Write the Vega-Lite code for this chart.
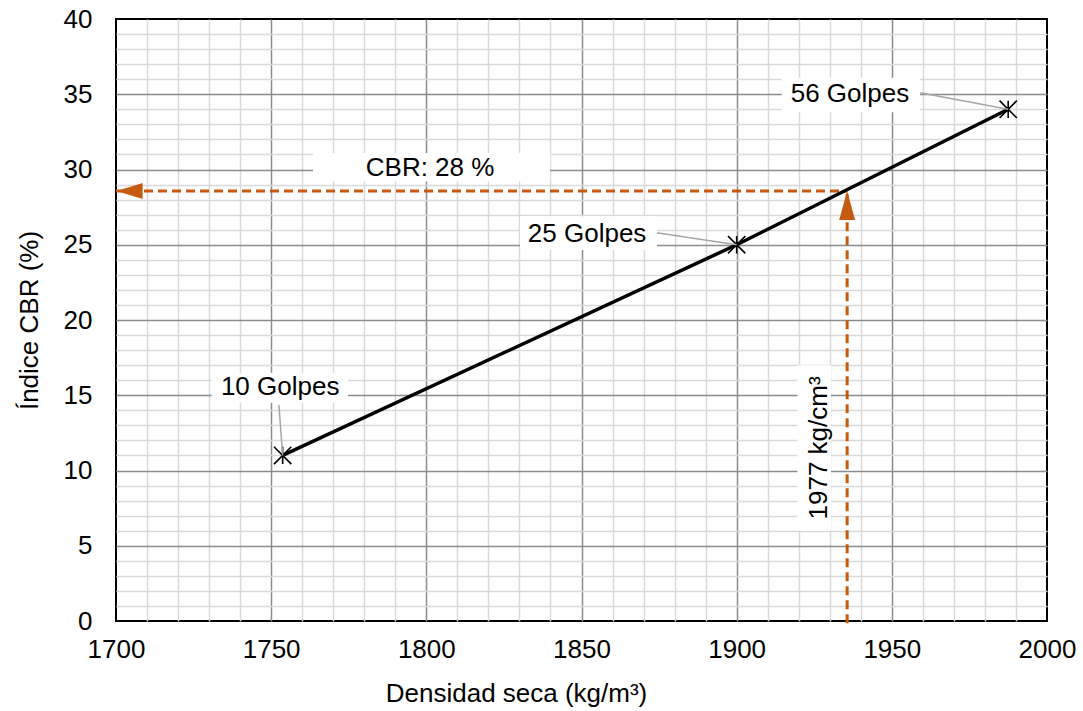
{
  "$schema": "https://vega.github.io/schema/vega-lite/v6.json",
  "width": 931,
  "height": 602,
  "autosize": {"type": "none"},
  "padding": {"left": 116, "top": 19, "right": 36, "bottom": 90},
  "config": {
    "font": "Liberation Sans",
    "view": {"stroke": "#000000", "strokeWidth": 2},
    "axis": {
      "ticks": false,
      "domain": false,
      "grid": true,
      "gridWidth": 1.5,
      "labelFontSize": 26,
      "labelColor": "#000000",
      "labelFlush": false,
      "labelOverlap": false,
      "labelBound": false,
      "titleFontSize": 26,
      "titleFontWeight": "normal",
      "titleColor": "#000000"
    }
  },
  "datasets": {
    "pts": [
      {"x": 1753.7, "y": 11},
      {"x": 1900, "y": 25},
      {"x": 1987.5, "y": 34}
    ],
    "guides": [
      {"x": 1700, "y": 28.57, "x2": 1935.6, "y2": 28.57},
      {"x": 1935.6, "y": -0.15, "x2": 1935.6, "y2": 28.57}
    ],
    "arrowLeft": [{"x": 1700.2, "y": 28.57}],
    "arrowUp": [{"x": 1935.6, "y": 28.57}],
    "leaders": [
      {"x": 1752.5, "y": 14.35, "x2": 1753.7, "y2": 11},
      {"x": 1874.2, "y": 25.8, "x2": 1900, "y2": 25},
      {"x": 1959.1, "y": 35.1, "x2": 1987.5, "y2": 34}
    ],
    "boxes": [
      {"x": 1730.8, "x2": 1774.8, "y": 14.5, "y2": 16.5},
      {"x": 1830.2, "x2": 1874.3, "y": 24.65, "y2": 26.9},
      {"x": 1914.5, "x2": 1959.1, "y": 33.8, "y2": 36.1},
      {"x": 1763.5, "x2": 1839.9, "y": 29.2, "y2": 31.1},
      {"x": 1919.6, "x2": 1930.4, "y": 6, "y2": 17}
    ],
    "labels": [
      {"x": 1752.9, "y": 15.55, "text": "10 Golpes"},
      {"x": 1851.8, "y": 25.7, "text": "25 Golpes"},
      {"x": 1936.5, "y": 35.0, "text": "56 Golpes"},
      {"x": 1801.2, "y": 30.08, "text": "CBR: 28 %"}
    ],
    "vlabel": [{"x": 1926.6, "y": 11.5, "text": "1977 kg/cm³"}]
  },
  "encoding": {
    "x": {
      "field": "x",
      "type": "quantitative",
      "scale": {"domain": [1700, 2000], "nice": false, "zero": false},
      "axis": {
        "title": "Densidad seca (kg/m³)",
        "format": "d",
        "values": [1700,1710,1720,1730,1740,1750,1760,1770,1780,1790,1800,1810,1820,1830,1840,1850,1860,1870,1880,1890,1900,1910,1920,1930,1940,1950,1960,1970,1980,1990,2000],
        "labelExpr": "datum.value % 50 === 0 ? datum.label : ''",
        "labelPadding": 15,
        "titlePadding": 18,
        "titleX": 400,
        "gridColor": {"condition": {"test": "datum.value % 50 === 0", "value": "#8c8c8c"}, "value": "#d9d9d9"},
        "gridOpacity": {"condition": {"test": "datum.value === 1700 || datum.value === 2000", "value": 0}, "value": 1}
      }
    },
    "y": {
      "field": "y",
      "type": "quantitative",
      "scale": {"domain": [0, 40], "nice": false, "zero": false},
      "axis": {
        "title": "Índice CBR (%)",
        "format": "d",
        "values": [0,1,2,3,4,5,6,7,8,9,10,11,12,13,14,15,16,17,18,19,20,21,22,23,24,25,26,27,28,29,30,31,32,33,34,35,36,37,38,39,40],
        "labelExpr": "datum.value % 5 === 0 ? datum.label : ''",
        "labelPadding": 24,
        "titlePadding": 21,
        "gridColor": {"condition": {"test": "datum.value % 5 === 0", "value": "#8c8c8c"}, "value": "#d9d9d9"},
        "gridOpacity": {"condition": {"test": "datum.value === 0 || datum.value === 40", "value": 0}, "value": 1}
      }
    }
  },
  "layer": [
    {
      "data": {"name": "guides"},
      "mark": {"type": "rule", "color": "#c55a11", "strokeWidth": 3, "strokeDash": [9, 5]},
      "encoding": {"x2": {"field": "x2"}, "y2": {"field": "y2"}}
    },
    {
      "data": {"name": "arrowLeft"},
      "mark": {"type": "point", "shape": "M0,0L2,-0.62L2,0.62Z", "size": 676, "filled": true, "color": "#c55a11", "opacity": 1, "strokeWidth": 0}
    },
    {
      "data": {"name": "arrowUp"},
      "mark": {"type": "point", "shape": "M0,0L-0.55,2L0.55,2Z", "size": 841, "filled": true, "color": "#c55a11", "opacity": 1, "strokeWidth": 0}
    },
    {
      "data": {"name": "pts"},
      "mark": {"type": "line", "color": "#000000", "strokeWidth": 3.5}
    },
    {
      "data": {"name": "pts"},
      "mark": {"type": "point", "shape": "M-1,-1L1,1M-1,1L1,-1M0,-1L0,1", "size": 300, "filled": false, "color": "#000000", "opacity": 1, "strokeWidth": 1.6}
    },
    {
      "data": {"name": "leaders"},
      "mark": {"type": "rule", "color": "#a6a6a6", "strokeWidth": 1.5},
      "encoding": {"x2": {"field": "x2"}, "y2": {"field": "y2"}}
    },
    {
      "data": {"name": "boxes"},
      "mark": {"type": "rect", "fill": "#ffffff", "strokeWidth": 0},
      "encoding": {"x2": {"field": "x2"}, "y2": {"field": "y2"}}
    },
    {
      "data": {"name": "labels"},
      "mark": {"type": "text", "fontSize": 26, "color": "#000000", "align": "center", "baseline": "middle"},
      "encoding": {"text": {"field": "text"}}
    },
    {
      "data": {"name": "vlabel"},
      "mark": {"type": "text", "fontSize": 26, "color": "#000000", "align": "center", "baseline": "middle", "angle": 270},
      "encoding": {"text": {"field": "text"}}
    }
  ]
}
